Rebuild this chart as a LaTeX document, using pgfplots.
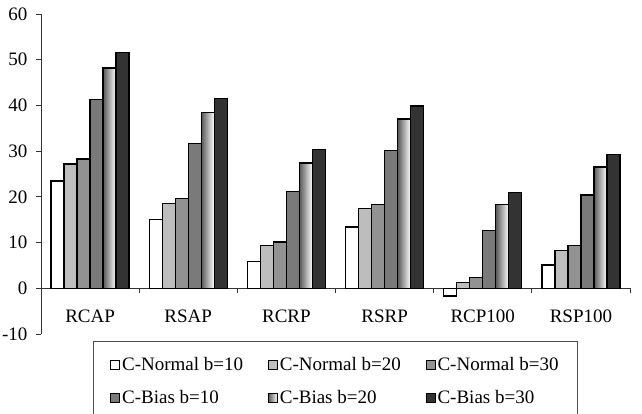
\documentclass[border=0pt]{standalone}
\usepackage{pgfplots}
\pgfplotsset{compat=1.18}
\usepackage{fontspec}
\setmainfont{Liberation Serif}
\definecolor{cA}{HTML}{FFFFFF}
\definecolor{cB}{HTML}{BDBDBD}
\definecolor{cC}{HTML}{929292}
\definecolor{cD}{HTML}{7A7A7A}
\definecolor{cF}{HTML}{333333}
\pgfplotsset{barB/.style={draw=black, line width=1.3pt}, grad/.style={barB, left color=black!65, right color=white, bar shift=0.19875}}
\begin{document}
\begin{tikzpicture}
\begin{axis}[
  scale only axis,
  width=589pt, height=320pt,
  xmin=0.5, xmax=6.5, ymin=-10, ymax=60,
  axis y line=left, axis x line=middle,
  axis line style={-, line width=0.9pt, black!80},
  ytick={-10,0,...,60},
  xtick={1,...,6},
  xticklabels={RCAP,RSAP,RCRP,RSRP,RCP100,RSP100},
  minor xtick={1.5,2.5,...,6.5},
  major tick length=5pt, minor tick length=5pt,
  major x tick style={draw=none},
  minor x tick style={line width=0.9pt, black!80},
  y tick style={line width=0.9pt, black!80},
  tick align=outside,
  /pgf/number format/assume math mode=true,
  tick label style={font=\fontsize{19}{22}\selectfont},
  xticklabel style={yshift=-13pt},
  yticklabel style={xshift=-5pt},
  ybar=0pt, bar width=0.1325,
  legend columns=3,
  legend style={at={(0.5,0)}, anchor=north, yshift=-7pt,
    draw=black!70, line width=1pt,
    font=\fontsize{19}{22}\selectfont,
    inner xsep=17pt, inner ysep=14pt, row sep=14pt,
    /tikz/every even column/.append style={column sep=23pt}},
  legend cell align=left,
  legend image code/.code={\draw[#1, line width=0.7pt] (0pt,-4.5pt) rectangle (9pt,4.5pt);},
]
\addplot[barB, fill=cA, bar shift=-0.33125] coordinates {(1,23.5) (2,15.1) (3,5.8) (4,13.4) (5,-1.7) (6,5.1)};
\addplot[barB, fill=cB, bar shift=-0.19875] coordinates {(1,27.2) (2,18.5) (3,9.3) (4,17.4) (5,1.2) (6,8.3)};
\addplot[barB, fill=cC, bar shift=-0.06625] coordinates {(1,28.3) (2,19.7) (3,10.1) (4,18.3) (5,2.3) (6,9.3)};
\addplot[barB, fill=cD, bar shift=0.06625] coordinates {(1,41.3) (2,31.7) (3,21.2) (4,30.1) (5,12.7) (6,20.4)};
\addplot[grad] coordinates {(1,48.2)};
\addplot[barB, fill=cF, bar shift=0.33125] coordinates {(1,51.6) (2,41.5) (3,30.4) (4,39.9) (5,21.0) (6,29.2)};
\addplot[grad, forget plot] coordinates {(2,38.4)};
\addplot[grad, forget plot] coordinates {(3,27.4)};
\addplot[grad, forget plot] coordinates {(4,37.0)};
\addplot[grad, forget plot] coordinates {(5,18.3)};
\addplot[grad, forget plot] coordinates {(6,26.5)};
\legend{C-Normal b=10, C-Normal b=20, C-Normal b=30, C-Bias b=10, C-Bias b=20, C-Bias b=30}
\coordinate (bl) at (rel axis cs:0,0);
\coordinate (tr) at (rel axis cs:1,1);
\end{axis}
\pgfresetboundingbox
\path[use as bounding box] ([xshift=-41pt,yshift=-80pt]bl) rectangle ([xshift=12pt,yshift=14pt]tr);
\end{tikzpicture}
\end{document}
